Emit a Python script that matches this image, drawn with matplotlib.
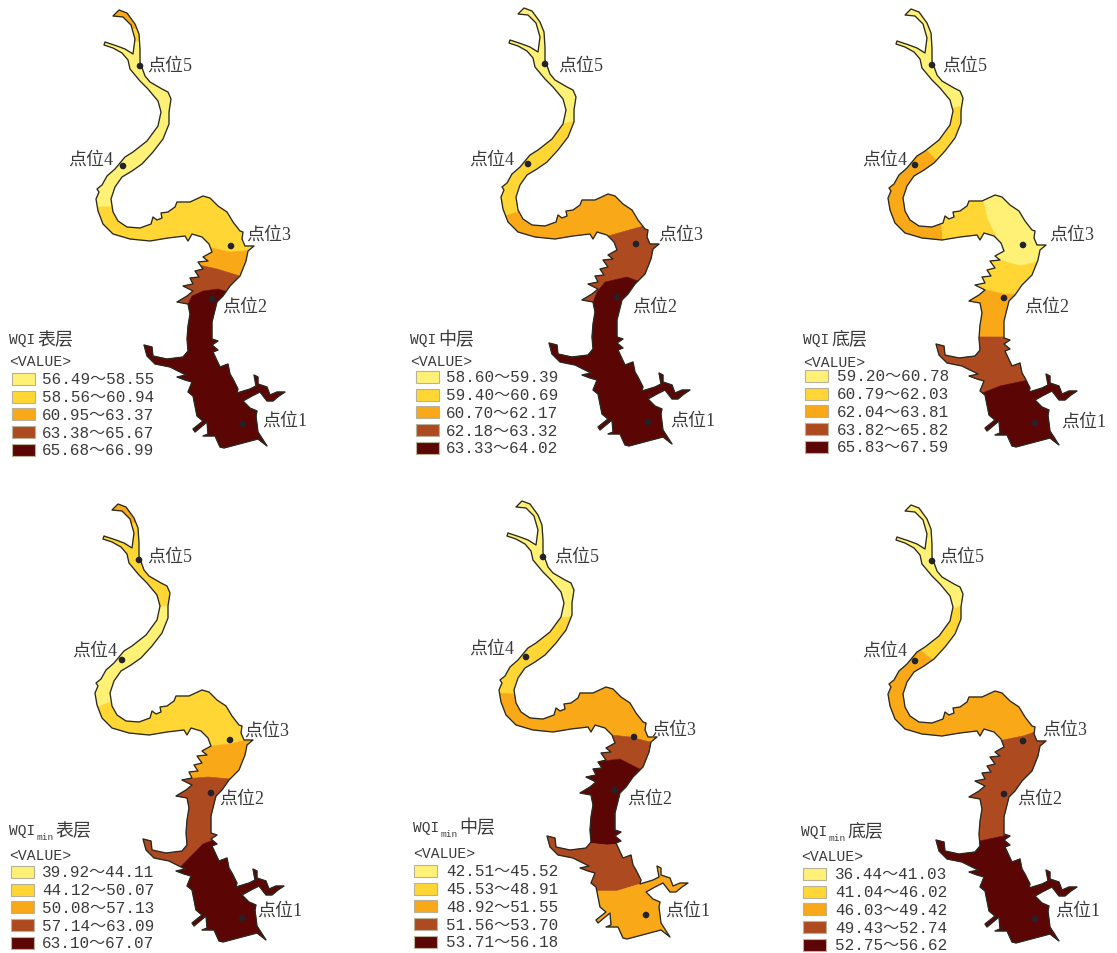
import numpy as np
import matplotlib
matplotlib.use("Agg")
import matplotlib.pyplot as plt
from matplotlib.patches import Polygon, Rectangle, Circle

W, H = 1117, 954
COLORS = ["#FFF176", "#FFD633", "#F9A818", "#AE4A1F", "#5C0505"]
CJK = "Noto Sans CJK SC"
MONO = ["Liberation Mono", CJK]
SERIF = ["Liberation Serif", CJK]
px = 0.72  # one pixel in points at dpi 100

# River outline, map coordinates of the first panel
WEST_BANK = [(113,17),(123,18),(131,26),(135,40),(133,55),(125,50),(117,47),(105,43),(104,46),(113,49),
    (122,54),(128,61),(130,70),(135,76),(140,82),(148,90),(158,102),(161,113),(158,127),(147,142),
    (133,153),(125,158),(115,170),(107,177),(102,186),(97,190),(99,193),(96,200),(98,212),(103,225),
    (113,235),(130,240),(150,242),(168,239),(185,237),(188,242),(192,235),(202,238),(209,245),(212,253),
    (203,258),(208,262),(198,263),(203,270),(195,272),(199,278),(190,279),(193,285),(183,287),(193,292),
    (187,297),(177,303),(188,305),(190,315),(188,327),(187,340),(188,352),(183,358),(167,360),(153,357),
    (152,348),(144,346),(147,357),(155,365),(170,368),(178,372),(186,376),(177,378),(185,381),(192,383),
    (188,393),(193,397),(197,417),(203,422),(193,430),(195,433),(207,423),(208,435),(203,437),(215,437),
    (220,448),(224,449)]
EAST_BANK = [(113,17),(119,11),(127,14),(135,25),(139,35),(140,50),(140,63),(145,77),(150,83),(162,90),
    (168,93),(171,100),(169,113),(169,125),(163,140),(153,153),(142,165),(132,172),(122,178),(115,188),
    (111,200),(113,213),(118,222),(127,228),(140,229),(151,225),(153,218),(157,221),(162,219),(161,214),
    (168,213),(175,208),(177,203),(190,203),(203,197),(210,199),(218,207),(227,213),(233,223),(240,232),
    (243,233),(242,240),(245,247),(254,247),(248,252),(246,262),(240,277),(230,287),(223,297),(217,303),
    (212,323),(212,340),(218,342),(212,346),(218,351),(213,353),(220,368),(228,365),(230,375),(233,380),
    (238,390),(237,394),(250,390),(256,387),(254,376),(258,378),(258,385),(267,388),(270,396),(277,393),
    (285,393),(279,397),(273,402),(267,402),(260,393),(252,397),(243,402),(250,409),(257,412),(256,417),
    (258,433),(267,447),(258,440),(224,449)]
SITES = [(243,425),(212,300),(231,247),(123,167),(140,67)]
SITE_NAMES = ["点位1", "点位2", "点位3", "点位4", "点位5"]

# Class boundaries across the river (west bank end first) and class of each zone
CUTS_1 = [[(132,30),(137,30)], [(135,43),(140,43)], [(97,208),(111,208)],
          [(212,248),(230,253),(247,250)], [(198,268),(217,270),(240,277)],
          [(188,305),(192,297),(203,292),(218,290),(227,293)]]
LEVELS_1 = [2, 1, 0, 1, 2, 3, 4]
CUTS_2 = [[(158,127),(168,124)], [(100,219),(113,215)], [(203,239),(238,229)],
          [(188,305),(192,295),(200,285),(222,280),(233,284)]]
LEVELS_2 = [0, 1, 2, 3, 4]
CUTS_3 = [[(158,111),(170,108)], [(136,154),(145,163)], [(151,241),(150,228)],
          [(208,242),(196,221),(192,203)], [(210,259),(228,268),(246,264)],
          [(191,291),(211,296),(223,296)], [(188,339),(211,339)], [(192,393),(208,388),(233,383)]]
LEVELS_3 = [0, 1, 2, 1, 0, 1, 2, 3, 4]
CUTS_4 = [[(133,30),(138,30)], [(159,114),(170,113)], [(99,214),(111,209)],
          [(213,253),(231,251),(248,248)], [(191,288),(209,284),(231,286)],
          [(184,369),(204,351),(213,348)]]
LEVELS_4 = [2, 1, 0, 1, 2, 3, 4]
CUTS_5 = [[(159,129),(169,127)], [(97,203),(112,204)], [(212,244),(227,247),(247,252)],
          [(197,269),(217,269),(237,279)], [(188,354),(204,355),(214,354)],
          [(194,401),(214,401),(239,392)]]
LEVELS_5 = [0, 1, 2, 3, 4, 3, 2]
CUTS_6 = [[(160,115),(170,112)], [(128,155),(138,163)], [(213,245),(231,242),(241,238)],
          [(188,347),(215,342)]]
LEVELS_6 = [0, 1, 2, 3, 4]

TITLES = [("WQI", "", "表层"), ("WQI", "", "中层"), ("WQI", "", "底层"),
          ("WQI", "min", "表层"), ("WQI", "min", "中层"), ("WQI", "min", "底层")]
RANGES_1 = ["56.49～58.55", "58.56～60.94", "60.95～63.37", "63.38～65.67", "65.68～66.99"]
RANGES_2 = ["58.60～59.39", "59.40～60.69", "60.70～62.17", "62.18～63.32", "63.33～64.02"]
RANGES_3 = ["59.20～60.78", "60.79～62.03", "62.04～63.81", "63.82～65.82", "65.83～67.59"]
RANGES_4 = ["39.92～44.11", "44.12～50.07", "50.08～57.13", "57.14～63.09", "63.10～67.07"]
RANGES_5 = ["42.51～45.52", "45.53～48.91", "48.92～51.55", "51.56～53.70", "53.71～56.18"]
RANGES_6 = ["36.44～41.03", "41.04～46.02", "46.03～49.42", "49.43～52.74", "52.75～56.62"]

# Layout of each panel
OFFSETS = [(0,0), (405,-2), (792,-1), (-1,494), (403,491), (792,495)]
LABEL_POS = [
    [(285,421),(245,307),(269,235),(91,160),(170,66)],
    [(693,421),(655,307),(681,235),(492,160),(581,66)],
    [(1084,422),(1047,307),(1072,235),(885,160),(965,66)],
    [(280,911),(242,799),(267,731),(95,651),(170,557)],
    [(688,911),(650,799),(674,730),(492,649),(577,557)],
    [(1078,911),(1040,799),(1065,730),(885,651),(962,557)],
]
LEGENDS = [  # title x, title y, value y, swatch x, text x, first row y
    (9, 340, 362, 12, 42, 380),
    (410, 340, 362, 416, 446, 378),
    (803, 340, 363, 805, 837, 377),
    (9, 831, 856, 11, 42, 873),
    (413, 828, 854, 414, 446, 872),
    (801, 832, 857, 803, 835, 875),
]
ROW_STEP = 17.7


def locate(bank, p):
    a = np.asarray(bank[:-1], float); b = np.asarray(bank[1:], float)
    d = b - a
    t = np.clip(((np.asarray(p) - a) * d).sum(1) / (d * d).sum(1), 0, 1)
    q = a + t[:, None] * d
    i = int(np.argmin(((q - p) ** 2).sum(1)))
    return i, tuple(q[i])


def bank_slice(bank, a, b):
    return [a[1]] + list(bank[a[0] + 1:b[0] + 1]) + [b[1]]


def zones(cuts):
    lo = [(-1, WEST_BANK[0])] + [locate(WEST_BANK, c[0]) for c in cuts] + [(len(WEST_BANK) - 2, WEST_BANK[-1])]
    ro = [(-1, EAST_BANK[0])] + [locate(EAST_BANK, c[-1]) for c in cuts] + [(len(EAST_BANK) - 2, EAST_BANK[-1])]
    mids = [[]] + [list(c[1:-1]) for c in cuts] + [[]]
    for k in range(len(lo) - 1):
        yield (bank_slice(WEST_BANK, lo[k], lo[k + 1]) + mids[k + 1]
               + bank_slice(EAST_BANK, ro[k], ro[k + 1])[::-1] + mids[k][::-1])


fig = plt.figure(figsize=(W / 100, H / 100), dpi=100)
ax = fig.add_axes([0, 0, 1, 1])
ax.set_xlim(0, W); ax.set_ylim(H, 0); ax.axis("off")

ALL_CUTS = [CUTS_1, CUTS_2, CUTS_3, CUTS_4, CUTS_5, CUTS_6]
ALL_LEVELS = [LEVELS_1, LEVELS_2, LEVELS_3, LEVELS_4, LEVELS_5, LEVELS_6]
ALL_RANGES = [RANGES_1, RANGES_2, RANGES_3, RANGES_4, RANGES_5, RANGES_6]
outline = np.array(WEST_BANK + EAST_BANK[::-1][1:-1], float)

for n in range(6):
    off = np.array(OFFSETS[n], float)
    for poly, lev in zip(zones(ALL_CUTS[n]), ALL_LEVELS[n]):
        c = COLORS[lev]
        ax.add_patch(Polygon(np.array(poly, float) + off, closed=True, fc=c, ec=c, lw=0.4, zorder=2))
    ax.add_patch(Polygon(outline + off, closed=True, fc="none", ec="#2a2a20", lw=0.95, joinstyle="round", zorder=3))
    for s, name, pos in zip(SITES, SITE_NAMES, LABEL_POS[n]):
        ax.add_patch(Circle(np.array(s) + off, 3.3, fc="#222228", ec="none", zorder=4))
        ax.text(pos[0], pos[1], name, family=SERIF, fontsize=18 * px, color="#3a3a3a",
                ha="center", va="center", zorder=5)
    tx, ty, vy, sx, lx, ry = LEGENDS[n]
    head, sub, tail = TITLES[n]
    ax.text(tx, ty, head, family=MONO, fontsize=14.5 * px, color="#3a3a3a", ha="left", va="center")
    x = tx + 28
    if sub:
        ax.text(x, ty + 7, sub, family=MONO, fontsize=9.5 * px, color="#3a3a3a", ha="left", va="center")
        x += 18
    ax.text(x, ty, tail, family=CJK, fontsize=18 * px, color="#3a3a3a", ha="left", va="center")
    ax.text(tx, vy, "<VALUE>", family=MONO, fontsize=14.7 * px, color="#3a3a3a", ha="left", va="center")
    for k, label in enumerate(ALL_RANGES[n]):
        y = ry + k * ROW_STEP
        ax.add_patch(Rectangle((sx, y - 6), 23, 12, fc=COLORS[k], ec="#b9b29a", lw=0.8))
        ax.text(lx, y, label, family=MONO, fontsize=16 * px, color="#3a3a3a", ha="left", va="center")

fig.savefig("out.png", dpi=100, facecolor="white")
